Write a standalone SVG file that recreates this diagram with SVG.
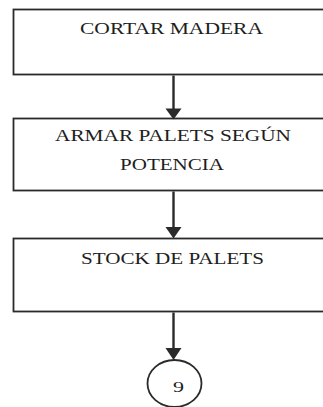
<svg xmlns="http://www.w3.org/2000/svg" width="323" height="407" viewBox="0 0 323 407">
<style>
.box{fill:#fff;stroke:#2a2a2a;stroke-width:1.8}
.lbl{font-family:'Liberation Serif','Times New Roman',serif;font-size:17.5px;fill:#1e1e1e}
.edge{stroke:#2a2a2a;stroke-width:2.4;fill:none}
.head{fill:#2a2a2a}
</style>
<rect width="323" height="407" fill="#fff"/>
<g id="n1">
<rect class="box" x="13.5" y="9.5" width="320" height="65"/>
<text class="lbl" x="80" y="34" textLength="183" lengthAdjust="spacingAndGlyphs">CORTAR MADERA</text>
</g>
<g id="n2">
<rect class="box" x="13.5" y="118.5" width="320" height="72"/>
<text class="lbl" x="55" y="141" textLength="236" lengthAdjust="spacingAndGlyphs">ARMAR PALETS SEGÚN</text>
<text class="lbl" x="120" y="170" textLength="104" lengthAdjust="spacingAndGlyphs">POTENCIA</text>
</g>
<g id="n3">
<rect class="box" x="13.5" y="238.5" width="320" height="73"/>
<text class="lbl" x="81" y="263.5" textLength="183" lengthAdjust="spacingAndGlyphs">STOCK DE PALETS</text>
</g>
<g id="n4">
<ellipse cx="174.5" cy="383.5" rx="27" ry="23.5" fill="#fff" stroke="#2a2a2a" stroke-width="1.8"/>
<text class="lbl" x="173" y="392" style="font-size:15px" textLength="11" lengthAdjust="spacingAndGlyphs">9</text>
</g>
<g id="connectors">
<path class="edge" d="M173.5,75.5 V110"/>
<path class="head" d="M165.5,108.5 L181.5,108.5 L173.5,119.5 Z"/>
<path class="edge" d="M173.5,191.5 V228"/>
<path class="head" d="M165.5,227 L181.5,227 L173.5,238.5 Z"/>
<path class="edge" d="M173.5,312.5 V349"/>
<path class="head" d="M165.5,348 L181.5,348 L173.5,360 Z"/>
</g>
</svg>
